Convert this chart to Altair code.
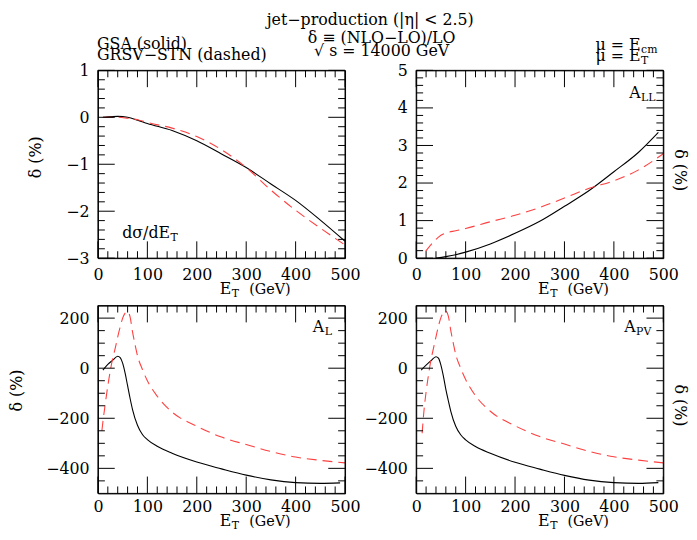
import altair as alt
import pandas as pd

# ---------------- data ----------------
# d sigma / dE_T  (delta in %)
ET_SIG = [10, 20, 40, 60, 80, 100, 150, 200, 250, 300, 350, 400, 450, 500]
SIG_GSA = [0.0, 0.01, 0.02, 0.0, -0.06, -0.13, -0.28, -0.50, -0.78, -1.07, -1.42, -1.77, -2.19, -2.64]
SIG_GRSV = [0.0, 0.0, 0.0, -0.02, -0.05, -0.11, -0.23, -0.41, -0.69, -1.07, -1.55, -1.98, -2.36, -2.72]

# A_LL
ET_ALL_GSA = [40, 60, 80, 100, 150, 200, 250, 300, 350, 400, 450, 490]
ALL_GSA = [0.0, 0.04, 0.09, 0.16, 0.38, 0.66, 0.98, 1.38, 1.80, 2.30, 2.82, 3.35]
ET_ALL_GRSV = [19, 30, 40, 50, 60, 80, 100, 150, 200, 250, 300, 350, 400, 450, 500]
ALL_GRSV = [0.18, 0.36, 0.50, 0.61, 0.67, 0.73, 0.79, 0.97, 1.14, 1.35, 1.60, 1.86, 2.06, 2.35, 2.78]

# A_L
ET_AL_GSA = [10, 20, 30, 40, 45, 50, 55, 60, 65, 70, 80, 90, 100, 120, 150, 200, 250, 300, 350, 400, 450, 490]
AL_GSA = [-8, 15, 32, 48, 42, 20, -20, -70, -120, -165, -228, -265, -285, -312, -340, -375, -402, -427, -446, -457, -460, -458]
ET_AL_GRSV = [8, 10, 15, 20, 25, 30, 35, 40, 45, 50, 55, 60, 65, 70, 75, 80, 90, 100, 120, 150, 200, 250, 300, 350, 400, 450, 500]
AL_GRSV = [-250, -215, -140, -70, -10, 40, 80, 125, 165, 200, 220, 226, 205, 145, 95, 50, -5, -50, -112, -175, -232, -275, -305, -333, -355, -368, -378]

# A_PV
ET_APV_GSA = [10, 20, 30, 40, 45, 50, 55, 60, 65, 70, 80, 90, 100, 120, 150, 200, 250, 300, 350, 400, 450, 490]
APV_GSA = [-8, 12, 30, 46, 40, 12, -32, -85, -130, -172, -232, -266, -286, -313, -340, -376, -403, -428, -447, -457, -460, -457]
ET_APV_GRSV = [12, 15, 20, 25, 30, 35, 40, 45, 50, 55, 60, 65, 70, 75, 80, 90, 100, 120, 150, 200, 250, 300, 350, 400, 450, 500]
APV_GRSV = [-260, -185, -95, -25, 35, 80, 125, 168, 202, 222, 228, 208, 150, 100, 55, 0, -45, -110, -172, -230, -273, -303, -332, -354, -367, -378]

# axis ranges and ticks
X_RANGE = [0, 500]
X_MAJOR = [0, 100, 200, 300, 400, 500]
X_MINOR = [20, 40, 60, 80, 120, 140, 160, 180, 220, 240, 260, 280, 320, 340, 360, 380, 420, 440, 460, 480]
Y_SIG_RANGE = [-3, 1]
Y_SIG_MAJOR = [-3, -2, -1, 0, 1]
Y_SIG_MINOR = [-2.8, -2.6, -2.4, -2.2, -1.8, -1.6, -1.4, -1.2, -0.8, -0.6, -0.4, -0.2, 0.2, 0.4, 0.6, 0.8]
Y_ALL_RANGE = [0, 5]
Y_ALL_MAJOR = [0, 1, 2, 3, 4, 5]
Y_ALL_MINOR = [0.2, 0.4, 0.6, 0.8, 1.2, 1.4, 1.6, 1.8, 2.2, 2.4, 2.6, 2.8, 3.2, 3.4, 3.6, 3.8, 4.2, 4.4, 4.6, 4.8]
Y_A_RANGE = [-500, 250]
Y_A_MAJOR = [-400, -200, 0, 200]
Y_A_MINOR = [-450, -350, -300, -250, -150, -100, -50, 50, 100, 150]

# texts
T_TITLE = "jet\u2212production (|\u03b7| < 2.5)"
T_DELTA = "\u03b4 \u2261 (NLO\u2212LO)/LO"
T_SQRTS = "\u221a s = 14000 GeV"
T_GSA = "GSA (solid)"
T_GRSV = "GRSV\u2212STN (dashed)"
T_MU = "\u03bc = E"
T_SUB_CM = "cm"
T_SUB_T = "T"
T_YTITLE = "\u03b4 (%)"
T_E = "E"
T_GEV = "(GeV)"
T_DSIG = "d\u03c3/dE"
T_A = "A"
T_SUB_LL = "LL"
T_SUB_L = "L"
T_SUB_PV = "PV"

W, H = 250, 190
FONT = "DejaVu Serif"
FS = 16
SUBFS = 11
RED = "#ff4040"
MAJ, MIN = 17, 7

xsc = alt.Scale(domain=X_RANGE, nice=False, zero=False)


def text(txt, x, y, size=FS, align="left", angle=0, baseline="alphabetic"):
    return alt.Chart(pd.DataFrame({"t": [txt]})).mark_text(
        font=FONT, fontSize=size, align=align, baseline=baseline, angle=angle, color="black"
    ).encode(text="t:N", x=alt.value(x), y=alt.value(y))


def sub_text(main, sub, x, y, size=FS, subsize=SUBFS, drop=3):
    return [text(main, x, y, size, align="right"), text(sub, x + 0.5, y + drop, subsize, align="left")]


def et_title(y):
    return sub_text(T_E, T_SUB_T, 135, y) + [text(T_GEV, 153, y, size=14.5)]


def panel(series, yrange, ymaj, ymin, extra, xpad):
    ysc = alt.Scale(domain=yrange, nice=False, zero=False)
    xax = alt.Axis(values=X_MAJOR, ticks=False, domain=False, grid=False, labelPadding=xpad,
                   labelFont=FONT, labelFontSize=FS, labelColor="black", labelFlush=False,
                   labelOverlap=False, title="")
    yax = alt.Axis(values=ymaj, ticks=False, domain=False, grid=False, labelPadding=9,
                   labelFont=FONT, labelFontSize=FS, labelColor="black", labelFlush=False,
                   labelOverlap=False, title="")
    layers = []
    for xs, ys, dashed in series:
        df = pd.DataFrame({"et": xs, "d": ys})
        mk = dict(color=RED, strokeWidth=1.1, strokeDash=[10, 6]) if dashed else dict(color="black", strokeWidth=1.1)
        layers.append(alt.Chart(df).mark_line(interpolate="monotone", **mk).encode(
            x=alt.X("et:Q", scale=xsc, axis=xax), y=alt.Y("d:Q", scale=ysc, axis=yax)))
    # frame: full-length rules at the ends of both ranges
    layers.append(alt.Chart(pd.DataFrame({"et": X_RANGE})).mark_rule(color="black", strokeWidth=1).encode(
        x=alt.X("et:Q", scale=xsc, axis=xax), y=alt.value(0), y2=alt.value(H)))
    layers.append(alt.Chart(pd.DataFrame({"d": yrange})).mark_rule(color="black", strokeWidth=1).encode(
        y=alt.Y("d:Q", scale=ysc, axis=yax), x=alt.value(0), x2=alt.value(W)))
    # ticks (inward, on all four sides)
    for vals, ln in ((X_MAJOR, MAJ), (X_MINOR, MIN)):
        df = pd.DataFrame({"et": vals})
        layers.append(alt.Chart(df).mark_rule(color="black", strokeWidth=1).encode(
            x=alt.X("et:Q", scale=xsc, axis=xax), y=alt.value(H), y2=alt.value(H - ln)))
        layers.append(alt.Chart(df).mark_rule(color="black", strokeWidth=1).encode(
            x=alt.X("et:Q", scale=xsc, axis=xax), y=alt.value(0), y2=alt.value(ln)))
    for vals, ln in ((ymaj, MAJ), (ymin, MIN)):
        df = pd.DataFrame({"d": vals})
        layers.append(alt.Chart(df).mark_rule(color="black", strokeWidth=1).encode(
            y=alt.Y("d:Q", scale=ysc, axis=yax), x=alt.value(0), x2=alt.value(ln)))
        layers.append(alt.Chart(df).mark_rule(color="black", strokeWidth=1).encode(
            y=alt.Y("d:Q", scale=ysc, axis=yax), x=alt.value(W), x2=alt.value(W - ln)))
    layers += extra
    return alt.layer(*layers).properties(width=W, height=H)


p1 = panel([(ET_SIG, SIG_GSA, False), (ET_SIG, SIG_GRSV, True)], Y_SIG_RANGE, Y_SIG_MAJOR, Y_SIG_MINOR,
           [text(T_TITLE, 275.5, -46, align="center"),
            text(T_DELTA, 287, -28, align="center"),
            text(T_SQRTS, 287, -14.5, align="center"),
            text(T_GSA, -1, -22),
            text(T_GRSV, -1, -10),
            text(T_YTITLE, -63, 88, angle=270, align="center", baseline="middle")]
           + sub_text(T_DSIG, T_SUB_T, 73, 170)
           + et_title(226), 9)

p2 = panel([(ET_ALL_GSA, ALL_GSA, False), (ET_ALL_GRSV, ALL_GRSV, True)], Y_ALL_RANGE, Y_ALL_MAJOR, Y_ALL_MINOR,
           sub_text(T_MU, T_SUB_CM, 227, -21)
           + sub_text(T_MU, T_SUB_T, 227, -9.5)
           + sub_text(T_A, T_SUB_LL, 227, 28)
           + [text(T_YTITLE, 267, 101, angle=90, align="center", baseline="middle")]
           + et_title(226), 9)

p3 = panel([(ET_AL_GSA, AL_GSA, False), (ET_AL_GRSV, AL_GRSV, True)], Y_A_RANGE, Y_A_MAJOR, Y_A_MINOR,
           sub_text(T_A, T_SUB_L, 229, 27)
           + [text(T_YTITLE, -82, 86, angle=270, align="center", baseline="middle")]
           + et_title(223), 5)

p4 = panel([(ET_APV_GSA, APV_GSA, False), (ET_APV_GRSV, APV_GRSV, True)], Y_A_RANGE, Y_A_MAJOR, Y_A_MINOR,
           sub_text(T_A, T_SUB_PV, 222, 27)
           + [text(T_YTITLE, 267, 101, angle=90, align="center", baseline="middle")]
           + et_title(223), 5)

chart = alt.concat(p1, p2, p3, p4, columns=2, spacing={"row": 48, "column": 72}, bounds="flush").properties(
    padding=0, background="white"
).configure_view(stroke="black", strokeWidth=1)

chart.save("out.html", embed_options={"renderer": "svg", "actions": False})
